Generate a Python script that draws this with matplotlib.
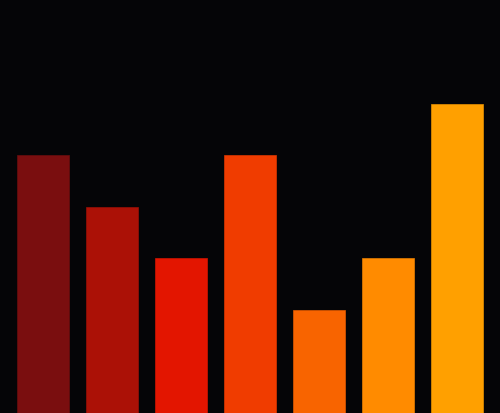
import matplotlib
matplotlib.use("Agg")
import matplotlib.pyplot as plt

categories = ["A", "B", "C", "D", "E", "F", "G"]
values = [5, 4, 3, 5, 2, 3, 6]
colors = ["#7a0e0f", "#ab1106", "#e31500", "#f03c00", "#f86400", "#ff8b00", "#ffa000"]
edges = ["#6a0c0d", "#9a0f05", "#d01300", "#dc3600", "#e05800", "#e87e00", "#e89200"]

fig = plt.figure(figsize=(5.0, 4.14), dpi=100)
fig.patch.set_facecolor("#050507")
ax = fig.add_axes([0, 0, 1, 1])
ax.set_facecolor("#050507")

x = range(len(categories))
ax.bar(x, values, width=0.745, color=colors, edgecolor=edges, linewidth=0.5)

ax.set_xlim(-0.623, len(categories) - 1 + 0.623)
ax.set_ylim(0, 8.03)
ax.axis("off")

plt.savefig("out.png", dpi=100, facecolor=fig.get_facecolor())
plt.close()
